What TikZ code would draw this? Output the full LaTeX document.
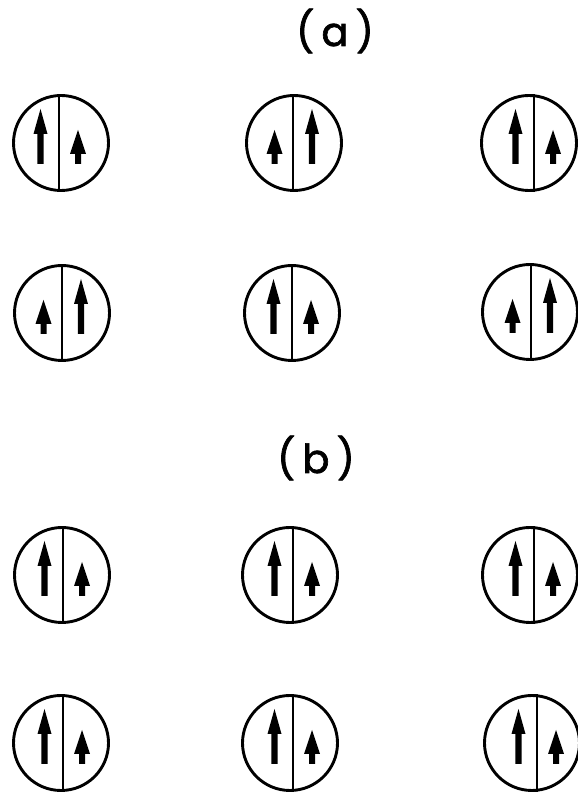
\documentclass[tikz,border=0pt]{standalone}
\usepackage{fontspec}
\setmainfont{Poppins}
\newfontfamily\labelfont{Poppins}[FakeBold=1.6]
\usetikzlibrary{calc}
\tikzset{
  ring/.style={circle, draw, line width=2.9pt, minimum size=95pt, inner sep=0pt},
  divider/.style={line width=2.4pt},
  label/.style={font=\fontsize{40}{40}\labelfont, inner sep=0pt},
  pics/longarr/.style={code={
    \fill[black] (-3.2,-21) -- (-3.2,9) -- (-7,9) -- (0,34) -- (7,9) -- (3.2,9) -- (3.2,-21) -- cycle;}},
  pics/shortarr/.style={code={
    \fill[black] (-3,-21) -- (-3,-11) -- (-8,-11) -- (0,13) -- (8,-11) -- (3,-11) -- (3,-21) -- cycle;}},
}
% name, x, y(from top), divider offset, left pic, right pic
\newcommand\spincell[6]{%
  \node[ring] (#1) at (#2,798-#3) {};
  \coordinate (#1d) at ($(#1.center)+(#4,0)$);
  \draw[divider] (#1d |- #1.north) -- (#1d |- #1.south);
  \pic at ($(#1d)+(-18.5,0)$) {#5};
  \pic at ($(#1d)+(19,0)$) {#6};
}
\begin{document}
\begin{tikzpicture}[x=1pt,y=1pt]
\useasboundingbox (0,0) rectangle (578,798);
\node[label] (la) at (335,798-31) {(\hspace{0.18em}a\hspace{0.18em})};
\node[label] (lb) at (316,798-458) {(\hspace{0.18em}b\hspace{0.18em})};
% (a)
\spincell{a11}{61}{143}{-2}{longarr}{shortarr}
\spincell{a12}{294}{143}{-1}{shortarr}{longarr}
\spincell{a13}{529}{143}{5}{longarr}{shortarr}
\spincell{a21}{62}{313}{0}{shortarr}{longarr}
\spincell{a22}{292}{313}{0}{longarr}{shortarr}
\spincell{a23}{530}{312}{1}{shortarr}{longarr}
% (b)
\spincell{b11}{62}{575}{1}{longarr}{shortarr}
\spincell{b12}{290}{575}{3}{longarr}{shortarr}
\spincell{b13}{530}{575}{4}{longarr}{shortarr}
\spincell{b21}{61}{743}{2}{longarr}{shortarr}
\spincell{b22}{290}{743}{3}{longarr}{shortarr}
\spincell{b23}{532}{743}{5}{longarr}{shortarr}
\end{tikzpicture}
\end{document}
